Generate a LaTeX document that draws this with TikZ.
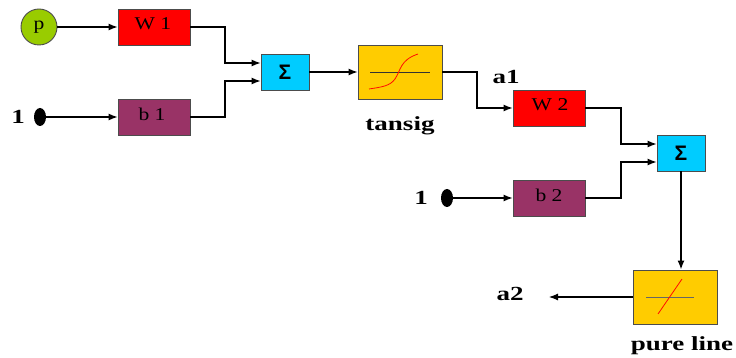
\documentclass[tikz,border=0pt]{standalone}
\usepackage{fontspec}
\setmainfont{Liberation Serif}
\newfontfamily\widefont[FakeStretch=1.2]{Liberation Serif}
\newfontfamily\widerfont[FakeStretch=1.35]{Liberation Serif}
\setsansfont{Liberation Sans}
\usetikzlibrary{arrows.meta,shapes.geometric}
\definecolor{wred}{RGB}{255,0,0}
\definecolor{bplum}{RGB}{153,51,102}
\definecolor{sumblue}{RGB}{0,204,255}
\definecolor{tfyellow}{RGB}{255,204,0}
\definecolor{pgreen}{RGB}{153,204,0}
\tikzset{
  blk/.style n args={3}{draw=black!70,line width=0.9pt,fill=#1,minimum width=#2pt,minimum height=#3pt,inner sep=0pt,font=\widefont\fontsize{18}{18}\selectfont},
  sumblk/.style={blk={sumblue}{48}{36},font=\sffamily\bfseries\fontsize{21}{21}\selectfont},
  dot/.style={ellipse,fill=black,minimum width=12pt,minimum height=18pt,inner sep=0pt},
  lbl/.style={inner sep=0pt,font=\widerfont\bfseries\fontsize{20}{20}\selectfont},
  wire/.style={line width=1.1pt,-{Latex[length=9pt,width=7pt]}},
  txt/.style={inner sep=0pt,font=\widefont\fontsize{18}{18}\selectfont},
}
\begin{document}
\begin{tikzpicture}[x=1pt,y=-1pt]
\useasboundingbox (0,0) rectangle (736,358);
% first layer
\node[circle,draw=black!70,line width=0.9pt,fill=pgreen,minimum size=36pt,inner sep=0pt] (p) at (39,27) {};
\node[txt] (lp) at (39,27) {p};
\node[blk={wred}{72}{36}] (w1) at (154,27) {};
\node[txt] (lw1) at (153,24) {W 1};
\node[blk={bplum}{72}{36}] (b1) at (154,117) {};
\node[txt] (lb1) at (152,114) {b 1};
\node[sumblk] (sum1) at (285,72) {Σ};
\node[blk={tfyellow}{84}{54}] (tansig) at (400,72) {};
\node[dot] (one1) at (40,117) {};
\node[lbl] (lone1) at (18,117) {1};
\node[lbl] (ltansig) at (400,126) {tansig};
% second layer
\node[lbl] (la1) at (506,77) {a1};
\node[blk={wred}{72}{36}] (w2) at (549,108) {};
\node[txt] (lw2) at (550,105) {W 2};
\node[blk={bplum}{72}{36}] (b2) at (549,198) {};
\node[txt] (lb2) at (549,195) {b 2};
\node[sumblk] (sum2) at (681,153) {Σ};
\node[blk={tfyellow}{84}{54}] (pure) at (675,297) {};
\node[dot] (one2) at (447,198) {};
\node[lbl] (lone2) at (421,198) {1};
\node[lbl] (la2) at (510,294) {a2};
\node[lbl] (lpure) at (682,346) {pure line};
\coordinate (out) at (549,297);
% connectors
\draw[wire] (p) -- (w1);
\draw[wire] (one1) -- (b1);
\draw[wire] (w1.east) -- (225,27) -- (225,63) -- ([yshift=9pt]sum1.west);
\draw[wire] (b1.east) -- (225,117) -- (225,81) -- ([yshift=-9pt]sum1.west);
\draw[wire] (sum1) -- (tansig);
\draw[wire] (tansig.east) -- (477,72) -- (477,108) -- (w2.west);
\draw[wire] (one2) -- (b2);
\draw[wire] (w2.east) -- (621,108) -- (621,144) -- ([yshift=9pt]sum2.west);
\draw[wire] (b2.east) -- (621,198) -- (621,162) -- ([yshift=-9pt]sum2.west);
\draw[wire,line width=1.4pt] (sum2.south) -- (sum2.south |- pure.north);
\draw[wire] (pure.west) -- (out);
% transfer curves
\draw[black!80,line width=0.7pt] (370,72) -- (430,72);
\draw[red!90!orange,line width=0.8pt] (369,89) .. controls (382,87) and (390,86) .. (395,79) .. controls (401,70) and (400,60) .. (418,54);
\draw[black!60,line width=1pt] (646,297) -- (694,297);
\draw[red!90!orange,line width=0.8pt] (658,314) -- (682,279);
\end{tikzpicture}
\end{document}
